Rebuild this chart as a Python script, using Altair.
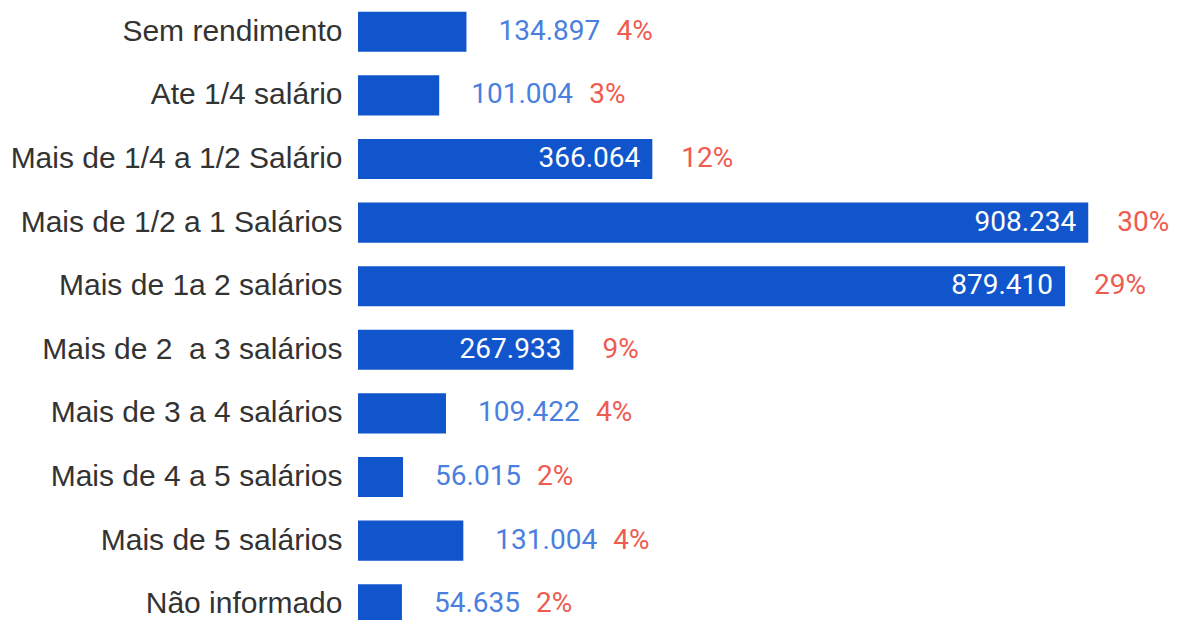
import altair as alt
import pandas as pd

categories = [
    "Sem rendimento",
    "Ate 1/4 salário",
    "Mais de 1/4 a 1/2 Salário",
    "Mais de 1/2 a 1 Salários",
    "Mais de 1a 2 salários",
    "Mais de 2 \u00a0a 3 salários",
    "Mais de 3 a 4 salários",
    "Mais de 4 a 5 salários",
    "Mais de 5 salários",
    "Não informado",
]
values = [134897, 101004, 366064, 908234, 879410, 267933, 109422, 56015, 131004, 54635]
value_labels = ["134.897", "101.004", "366.064", "908.234", "879.410",
                "267.933", "109.422", "56.015", "131.004", "54.635"]
pct_labels = ["4%", "3%", "12%", "30%", "29%", "9%", "4%", "2%", "4%", "2%"]

df = pd.DataFrame({
    "cat": categories,
    "value": values,
    "vlabel": value_labels,
    "plabel": pct_labels,
})

BLUE = "#1155cc"
LBLUE = "#4a7fe0"
RED = "#ee5b50"
LFS = 30
VFS = 28

y_enc = alt.Y(
    "cat:N", sort=categories, title=None,
    scale=alt.Scale(paddingInner=0.37, paddingOuter=0.185),
    axis=alt.Axis(labelFontSize=LFS, labelFont="Liberation Sans", labelColor="#333333",
                  labelPadding=16, ticks=False, domain=False, labelLimit=600, grid=False),
)
x_enc = alt.X("value:Q", axis=None, scale=alt.Scale(domain=[0, 995000], nice=False))

base = alt.Chart(df).encode(y=y_enc, x=x_enc).transform_calculate(
    inside="datum.value > 200000", nlen="length(datum.vlabel)"
)

bars = base.mark_bar(color=BLUE)

val_in = base.transform_filter("datum.inside").mark_text(
    align="right", baseline="middle", dx=-12, color="white", fontSize=VFS, font="Roboto"
).encode(text="vlabel:N")

val_out = base.transform_filter("!datum.inside").mark_text(
    align="left", baseline="middle", dx=32, color=LBLUE, fontSize=VFS, font="Roboto"
).encode(text="vlabel:N")

pct_in = base.transform_filter("datum.inside").mark_text(
    align="left", baseline="middle", dx=29, color=RED, fontSize=VFS, font="Roboto"
).encode(text="plabel:N")

pct_out7 = base.transform_filter("!datum.inside && datum.nlen == 7").mark_text(
    align="left", baseline="middle", dx=150, color=RED, fontSize=VFS, font="Roboto"
).encode(text="plabel:N")

pct_out6 = base.transform_filter("!datum.inside && datum.nlen == 6").mark_text(
    align="left", baseline="middle", dx=134, color=RED, fontSize=VFS, font="Roboto"
).encode(text="plabel:N")

chart = alt.layer(bars, val_in, val_out, pct_in, pct_out7, pct_out6).properties(
    width=800, height=636,
    background="white",
    autosize=alt.AutoSizeParams(type="none"),
    padding={"left": 350, "top": -8, "right": 11, "bottom": 0},
).configure_view(strokeWidth=0, stroke=None)

chart.save("out.html", embed_options={"renderer": "svg", "actions": False})
